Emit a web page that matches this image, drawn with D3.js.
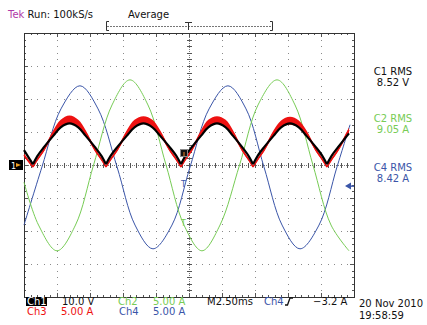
<!DOCTYPE html>
<html>
<head>
<meta charset="utf-8">
<script src="https://cdn.jsdelivr.net/npm/d3@7"></script>
<style>
body { margin: 0; background: #fff; }
text { font-family: "DejaVu Sans", sans-serif; font-size: 10px; }
</style>
</head>
<body>
<div id="canvas"></div>
<script>
"use strict"

// time in ms from the left edge of the screen (2.5 ms/div)
let ch1Time = [0, 0.68, 1.01, 1.51, 2.23, 2.78, 3.45, 4.11, 4.66, 5.38, 5.88, 6.21,
  6.55, 7.06, 7.80, 8.37, 9.05, 9.73, 10.30, 11.04, 11.55, 11.89,
  12.22, 12.71, 13.42, 13.96, 14.62, 15.28, 15.82, 16.53, 17.02, 17.35,
  17.69, 18.19, 18.92, 19.48, 20.15, 20.82, 21.38, 22.11, 22.61, 22.95,
  23.29, 23.79, 24.62];
// Ch1 volts (10 V/div)
let ch1Volts = [4.5, 0.2, 2.7, 5.4, 8.9, 11.4, 12.6, 11.4, 8.9, 5.4, 2.7, 0.2,
  2.7, 5.4, 8.9, 11.4, 12.6, 11.4, 8.9, 5.4, 2.7, 0.2,
  2.7, 5.4, 8.9, 11.4, 12.6, 11.4, 8.9, 5.4, 2.7, 0.2,
  2.7, 5.4, 8.9, 11.4, 12.6, 11.4, 8.9, 5.4, 2.7, 0.2,
  2.7, 5.4, 9.6];
// Ch3 amps (5 A/div) and the half width of its noise band
let ch3Amps = [1.5, -0.3, 0.8, 2.3, 4.9, 6.3, 6.9, 6.3, 4.9, 2.3, 0.8, -0.3,
  0.8, 2.3, 4.9, 6.3, 6.8, 6.3, 4.9, 2.3, 0.8, -0.3,
  0.8, 2.3, 4.9, 6.3, 6.8, 6.3, 4.9, 2.3, 0.8, -0.3,
  0.8, 2.3, 4.9, 6.2, 6.7, 6.2, 4.9, 2.3, 0.8, -0.3,
  0.8, 2.3, 5.3];
let ch3Noise = [0.25, 0.1, 0.15, 0.25, 0.4, 0.55, 0.6, 0.55, 0.4, 0.25, 0.15, 0.1,
  0.15, 0.25, 0.4, 0.55, 0.6, 0.55, 0.4, 0.25, 0.15, 0.1,
  0.15, 0.25, 0.4, 0.55, 0.6, 0.55, 0.4, 0.25, 0.15, 0.1,
  0.15, 0.25, 0.4, 0.55, 0.6, 0.55, 0.4, 0.25, 0.15, 0.1,
  0.15, 0.25, 0.4];

let ch4Time = [0, 1.36, 2.80, 4.24, 5.61, 7.05, 8.41, 9.77, 11.21, 12.58,
  14.02, 15.45, 16.82, 18.18, 19.55, 20.91, 22.35, 23.71, 24.70];
let ch4Amps = [-9.1, -0.3, 8.5, 12.0, 8.5, -0.3, -9.1, -12.7, -9.1, -0.3,
  8.5, 12.0, 8.5, -0.3, -9.1, -12.7, -9.1, -0.3, 6.1];

let ch2Time = [0, 1.10, 2.50, 3.90, 5.27, 6.67, 8.03, 9.39, 10.76, 12.12,
  13.48, 14.85, 16.33, 17.73, 19.17, 20.53, 21.89, 23.26, 24.62];
let ch2Amps = [-2.6, -9.1, -13.0, -9.1, 0, 9.1, 12.9, 9.1, 0, -9.1,
  -13.0, -9.1, 0, 9.1, 12.9, 9.1, 0, -9.1, -13.0];

let triggerLevel = -3.2;

let rmsLabels = [
  {name: "C1 RMS", value: "8.52 V", color: "#111111"},
  {name: "C2 RMS", value: "9.05 A", color: "#77cc55"},
  {name: "C4 RMS", value: "8.42 A", color: "#3a55a8"}
];

let colBlack = "#000000", colRed = "#ee1111", colGreen = "#77cc55", colBlue = "#3a55a8";

let drawingWidth = 427;
let drawingHeight = 325;
let gLeft = 24, gRight = 354, gTop = 33, gBottom = 297;

let drawing = d3.select("#canvas")
  .append("svg")
  .attr("width", drawingWidth)
  .attr("height", drawingHeight);

drawing.append("rect")
  .attr("width", drawingWidth)
  .attr("height", drawingHeight)
  .attr("fill", "#ffffff");

let x = d3.scaleLinear().domain([0, 25]).range([gLeft, gRight]);
let yDiv = d3.scaleLinear().domain([-4, 4]).range([gBottom, gTop]);
let yVolts = v => yDiv(v / 10);
let yAmps = a => yDiv(a / 5);
let px = v => Math.round(v) + 0.5;

// graticule
let grid = drawing.append("g");
let minorT = d3.range(0, 25.01, 0.5);
let minorD = d3.range(-4, 4.01, 0.2);

for (let d = 1; d < 10; d++) {
  if (d === 5) continue;
  minorD.forEach(v => grid.append("rect")
    .attr("x", Math.round(x(d * 2.5))).attr("y", Math.round(yDiv(v)))
    .attr("width", 1).attr("height", 1).attr("fill", "#8a8a8a"));
}
for (let d = -3; d <= 3; d++) {
  if (d === 0) continue;
  minorT.forEach(t => grid.append("rect")
    .attr("x", Math.round(x(t))).attr("y", Math.round(yDiv(d)))
    .attr("width", 1).attr("height", 1).attr("fill", "#8a8a8a"));
}

// centre lines
grid.append("line")
  .attr("x1", gLeft).attr("x2", gRight).attr("y1", px(yDiv(0))).attr("y2", px(yDiv(0)))
  .attr("stroke", "#777").attr("stroke-dasharray", "1,1");
grid.append("line")
  .attr("x1", px(x(12.5))).attr("x2", px(x(12.5))).attr("y1", gTop).attr("y2", gBottom)
  .attr("stroke", "#777").attr("stroke-dasharray", "1,1");
minorT.forEach(t => grid.append("line")
  .attr("x1", px(x(t))).attr("x2", px(x(t)))
  .attr("y1", yDiv(0) - 2).attr("y2", yDiv(0) + 3)
  .attr("stroke", "#555"));
minorD.forEach(v => grid.append("line")
  .attr("x1", x(12.5) - 2).attr("x2", x(12.5) + 3)
  .attr("y1", px(yDiv(v))).attr("y2", px(yDiv(v)))
  .attr("stroke", "#555"));

// border ticks
minorT.forEach((t, i) => {
  let len = i % 5 === 0 ? 4 : 2;
  grid.append("line").attr("x1", px(x(t))).attr("x2", px(x(t)))
    .attr("y1", gTop).attr("y2", gTop + len).attr("stroke", "#555");
  grid.append("line").attr("x1", px(x(t))).attr("x2", px(x(t)))
    .attr("y1", gBottom).attr("y2", gBottom - len).attr("stroke", "#555");
});
minorD.forEach((v, i) => {
  let len = i % 5 === 0 ? 4 : 2;
  grid.append("line").attr("x1", gLeft).attr("x2", gLeft + len)
    .attr("y1", px(yDiv(v))).attr("y2", px(yDiv(v))).attr("stroke", "#555");
  grid.append("line").attr("x1", gRight).attr("x2", gRight - len)
    .attr("y1", px(yDiv(v))).attr("y2", px(yDiv(v))).attr("stroke", "#555");
});

grid.append("rect")
  .attr("x", gLeft + 0.5).attr("y", gTop + 0.5)
  .attr("width", gRight - gLeft).attr("height", gBottom - gTop)
  .attr("fill", "none").attr("stroke", "#333");

// waveforms
let plot = drawing.append("g");

function splitAtMinima(pts) {
  let segs = [], cur = [pts[0]];
  for (let i = 1; i < pts.length; i++) {
    cur.push(pts[i]);
    if (i < pts.length - 1 && pts[i].v < pts[i - 1].v && pts[i].v < pts[i + 1].v) {
      segs.push(cur);
      cur = [pts[i]];
    }
  }
  segs.push(cur);
  return segs;
}

let smooth = d3.curveCatmullRom.alpha(0.5);

let ch4Pts = ch4Time.map((t, i) => ({t: t, v: ch4Amps[i]}));
let ch2Pts = ch2Time.map((t, i) => ({t: t, v: ch2Amps[i]}));
let ch1Pts = ch1Time.map((t, i) => ({t: t, v: ch1Volts[i]}));
let ch3Pts = ch1Time.map((t, i) => ({t: t, v: ch3Amps[i], n: ch3Noise[i]}));

let ampLine = d3.line().x(d => x(d.t)).y(d => yAmps(d.v)).curve(smooth);
let voltLine = d3.line().x(d => x(d.t)).y(d => yVolts(d.v)).curve(smooth);
let noiseBand = d3.area().x(d => x(d.t))
  .y0(d => yAmps(d.v - d.n)).y1(d => yAmps(d.v + d.n)).curve(smooth);

plot.append("path").attr("d", ampLine(ch4Pts))
  .attr("fill", "none").attr("stroke", colBlue).attr("stroke-width", 1);
plot.append("path").attr("d", ampLine(ch2Pts))
  .attr("fill", "none").attr("stroke", colGreen).attr("stroke-width", 1);

splitAtMinima(ch3Pts).forEach(seg => {
  plot.append("path").attr("d", noiseBand(seg)).attr("fill", colRed).attr("stroke", "none");
  plot.append("path").attr("d", ampLine(seg))
    .attr("fill", "none").attr("stroke", colRed).attr("stroke-width", 1.5);
});
splitAtMinima(ch1Pts).forEach(seg => {
  plot.append("path").attr("d", voltLine(seg))
    .attr("fill", "none").attr("stroke", colBlack).attr("stroke-width", 2.2);
});

// markers
let trigY = yAmps(triggerLevel);
drawing.append("path")
  .attr("d", `M345,${trigY} L351,${trigY - 3.5} L351,${trigY + 3.5} Z`)
  .attr("fill", colBlue);
drawing.append("line").attr("x1", 350).attr("x2", 354).attr("y1", trigY).attr("y2", trigY)
  .attr("stroke", colBlue).attr("stroke-width", 1.5);

drawing.append("rect").attr("x", 9).attr("y", yDiv(0) - 5).attr("width", 14).attr("height", 10)
  .attr("fill", "#000");
drawing.append("text").attr("x", 11).attr("y", yDiv(0) + 3.5)
  .style("font-size", "8px").attr("fill", "#fff").text("1");
drawing.append("path")
  .attr("d", `M16,${yDiv(0) - 2} L21,${yDiv(0)} L16,${yDiv(0) + 2} Z`)
  .attr("fill", "#f0a020");

drawing.append("rect").attr("x", 180.5).attr("y", 149.5).attr("width", 7).attr("height", 7)
  .attr("fill", "#111").attr("stroke", "#888");
drawing.append("line").attr("x1", 184).attr("x2", 184).attr("y1", 152).attr("y2", 156)
  .attr("stroke", "#f08020");
drawing.append("text").attr("x", 181).attr("y", 187).style("font-size", "8px")
  .attr("fill", colBlue).text("T");
drawing.append("text").attr("x", 181).attr("y", 226).style("font-size", "8px")
  .attr("fill", colGreen).text("T");

// top status
let topText = drawing.append("text").attr("x", 8).attr("y", 18);
topText.append("tspan").attr("fill", "#b03aa8").text("Tek");
topText.append("tspan").attr("fill", "#111").text(" Run: 100kS/s");
drawing.append("text").attr("x", 128).attr("y", 18).attr("fill", "#111").text("Average");

drawing.append("line").attr("x1", 107).attr("x2", 272).attr("y1", 26.5).attr("y2", 26.5)
  .attr("stroke", "#777").attr("stroke-dasharray", "2,1");
drawing.append("path").attr("d", "M109,21.5 H106.5 V30.5 H109").attr("fill", "none").attr("stroke", "#333");
drawing.append("path").attr("d", "M270,21.5 H272.5 V30.5 H270").attr("fill", "none").attr("stroke", "#333");
drawing.append("path").attr("d", "M185,22.5 H192 M188.5,22.5 V30").attr("fill", "none").attr("stroke", "#333");

// RMS readouts
rmsLabels.forEach((r, i) => {
  let y0 = [75, 122, 171][i];
  drawing.append("text").attr("x", 393).attr("y", y0).attr("text-anchor", "middle")
    .attr("fill", r.color).text(r.name);
  drawing.append("text").attr("x", 393).attr("y", y0 + 11).attr("text-anchor", "middle")
    .attr("fill", r.color).text(r.value);
});

// bottom readouts
drawing.append("rect").attr("x", 26).attr("y", 297).attr("width", 21).attr("height", 9).attr("fill", "#000");
let bottomTexts = [
  {x: 27, y: 305, t: "Ch1", c: "#ffffff"},
  {x: 62, y: 305, t: "10.0 V", c: "#111"},
  {x: 118, y: 305, t: "Ch2", c: colGreen},
  {x: 153, y: 305, t: "5.00 A", c: colGreen},
  {x: 207, y: 305, t: "M2.50ms", c: "#111"},
  {x: 264, y: 305, t: "Ch4", c: colBlue},
  {x: 313, y: 305, t: "\u22123.2 A", c: "#111"},
  {x: 27, y: 315, t: "Ch3", c: colRed},
  {x: 61, y: 315, t: "5.00 A", c: colRed},
  {x: 119, y: 315, t: "Ch4", c: colBlue},
  {x: 153, y: 315, t: "5.00 A", c: colBlue},
  {x: 359, y: 307, t: "20 Nov 2010", c: "#111"},
  {x: 359, y: 319, t: "19:58:59", c: "#111"}
];
bottomTexts.forEach(b => drawing.append("text")
  .attr("x", b.x).attr("y", b.y).attr("fill", b.c).text(b.t));

// trigger slope glyph
drawing.append("path").attr("d", "M285,305 H287.5 L290,298 H293")
  .attr("fill", "none").attr("stroke", "#111").attr("stroke-width", 1.3);
</script>
</body>
</html>
